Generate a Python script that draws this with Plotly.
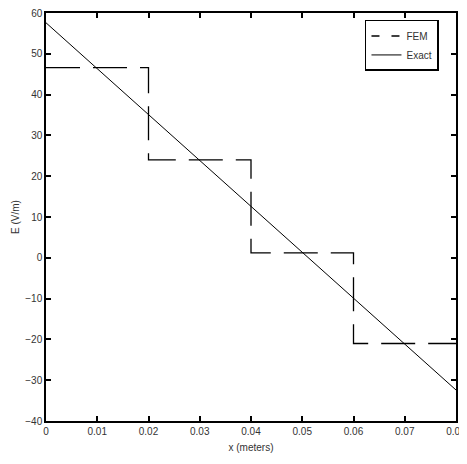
import plotly.graph_objects as go

x_fem = [0, 0.02, 0.02, 0.04, 0.04, 0.06, 0.06, 0.08]
e_fem = [46.6, 46.6, 24.0, 24.0, 1.2, 1.2, -21.0, -21.0]
x_exact = [0, 0.08]
e_exact = [57.6, -32.4]
x_ticks = [0, 0.01, 0.02, 0.03, 0.04, 0.05, 0.06, 0.07, 0.08]
x_tick_labels = ["0", "0.01", "0.02", "0.03", "0.04", "0.05", "0.06", "0.07", "0.08"]
y_ticks = [-40, -30, -20, -10, 0, 10, 20, 30, 40, 50, 60]

fig = go.Figure()
fig.add_trace(go.Scatter(x=x_fem, y=e_fem, mode="lines", name="FEM", showlegend=False,
                         line=dict(color="black", width=1.3, dash="34px,13px")))
# legend sample for FEM with a shorter dash so it reads as dashed
fig.add_trace(go.Scatter(x=[None], y=[None], mode="lines", name="FEM",
                         line=dict(color="black", width=1.5, dash="8px,12px")))
fig.add_trace(go.Scatter(x=x_exact, y=e_exact, mode="lines", name="Exact",
                         line=dict(color="black", width=1)))

font = dict(family="Liberation Sans, Arial", size=10, color="#333")
axis_common = dict(showgrid=False, zeroline=False, showline=True, linecolor="black",
                   linewidth=1.5, mirror="ticks", ticks="inside", ticklen=5,
                   tickcolor="black", tickwidth=1.5, automargin=False,
                   ticklabeloverflow="allow", tickfont=font)
fig.update_xaxes(range=[0, 0.08], tickvals=x_ticks, ticktext=x_tick_labels,
                 title=dict(text="x (meters)", font=font, standoff=8),
                 **axis_common)
fig.update_yaxes(range=[-40, 60], tickvals=y_ticks,
                 title=dict(text="E (V/m)", font=font, standoff=4),
                 **axis_common)
fig.update_layout(width=459, height=456, plot_bgcolor="white", paper_bgcolor="white",
                  margin=dict(l=38, r=11, t=5, b=43),
                  legend=dict(x=0.778, y=0.983, xanchor="left", yanchor="top",
                              bordercolor="black", borderwidth=1.5, bgcolor="white",
                              font=font, tracegroupgap=0, itemwidth=30,
                              entrywidth=80, entrywidthmode="pixels"))
fig.write_html("out.html")
